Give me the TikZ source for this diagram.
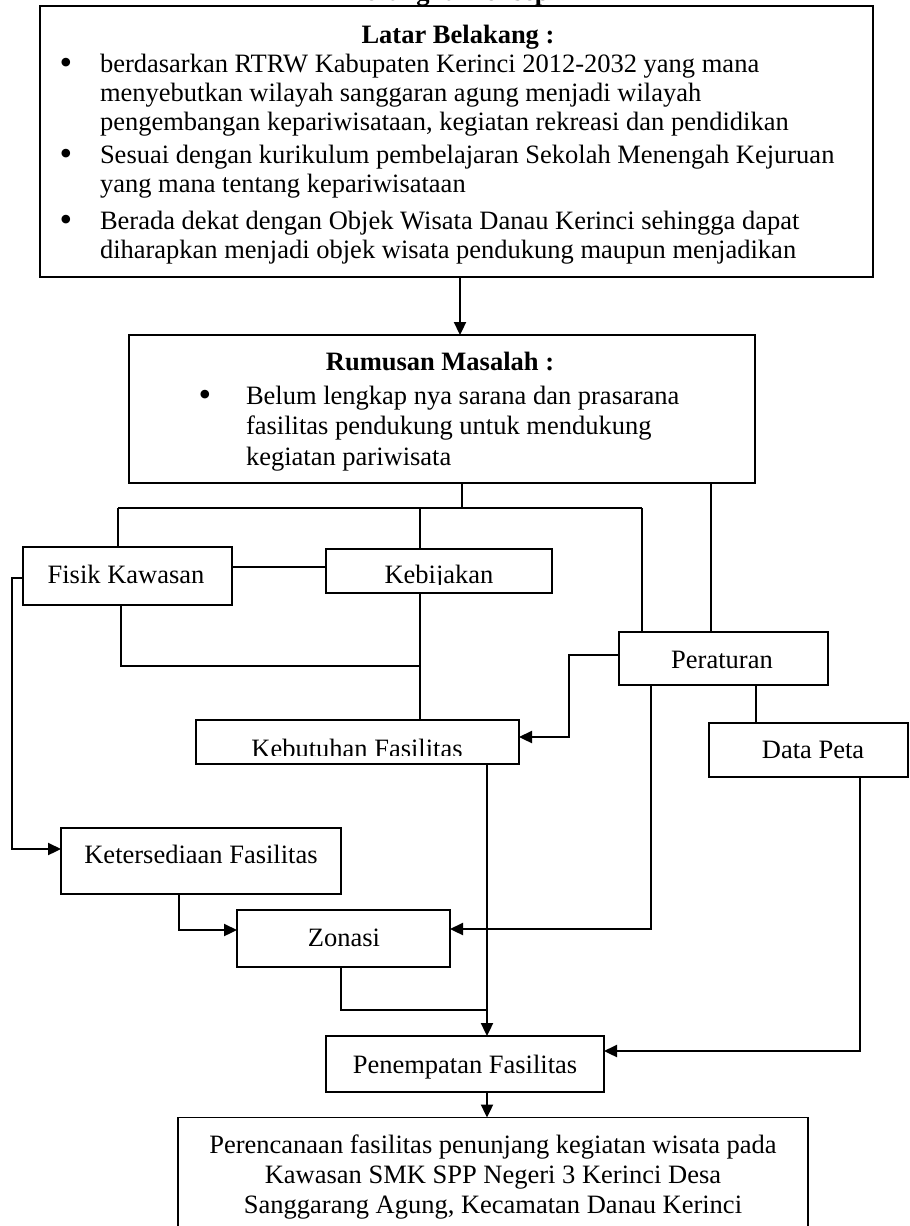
\documentclass[tikz,border=0pt]{standalone}
\usepackage{fontspec}
\setmainfont{Liberation Serif}
\usetikzlibrary{arrows.meta}
\newcommand\mkbox[5]{\node[frame, minimum width={(#4)-(#2)}, minimum height={(#5)-(#3)}] (#1) at ({((#2)+(#4))/2},{((#3)+(#5))/2}) {};}
\begin{document}
\begin{tikzpicture}[x=1pt,y=-1pt,
  every node/.style={font=\fontsize{26.5}{29}\selectfont, inner sep=0pt, outer sep=0pt},
  bold/.style={font=\fontsize{26.5}{29}\selectfont\bfseries},
  bull/.style={anchor=base, font=\fontsize{36}{36}\selectfont},
  frame/.style={draw, line width=1.4pt, rectangle},
  conn/.style={line width=1.3pt},
  arr/.style={line width=2.3pt, -{Triangle[length=13pt,width=12pt]}},
  lbl/.style={anchor=base}]
\useasboundingbox (0,0) rectangle (910,1226);
\fill[white] (0,0) rectangle (910,1226);

% boxes
\mkbox{lb}{40}{6}{873}{277}
\mkbox{rm}{129}{335}{755}{483}
\mkbox{fk}{23}{547}{232}{605}
\mkbox{kj}{326}{549}{552}{593}
\mkbox{pr}{619}{632}{828}{685}
\mkbox{kb}{196}{720}{519}{764}
\mkbox{dp}{709}{723}{908}{777}
\mkbox{kt}{61}{828}{341}{894}
\mkbox{zn}{237}{910}{450}{967}
\mkbox{pf}{326}{1036}{604}{1092}
\node[minimum width=630, minimum height=113] (pk) at (493,1174) {};
\draw[line width=1.4pt] (pk.south west) -- (pk.north west) -- (pk.north east) -- (pk.south east);

% texts
\node[bold, lbl] (t0) at (447,1) {Kerangka Konsep};
\node[bold, lbl] (lbt) at (458,43) {Latar Belakang :};
\node[bull] (bu1) at (66,74) {\textbullet};
\node[anchor=base west] (tx1) at (100,72) {\begin{tabular}[t]{@{}l@{}}berdasarkan RTRW Kabupaten Kerinci 2012-2032 yang mana\\ menyebutkan wilayah sanggaran agung menjadi wilayah\\ pengembangan kepariwisataan, kegiatan rekreasi dan pendidikan\end{tabular}};
\node[bull] (bu2) at (66,165) {\textbullet};
\node[anchor=base west] (tx2) at (100,163) {\begin{tabular}[t]{@{}l@{}}Sesuai dengan kurikulum pembelajaran Sekolah Menengah Kejuruan\\ yang mana tentang kepariwisataan\end{tabular}};
\node[bull] (bu3) at (66,231) {\textbullet};
\node[anchor=base west] (tx3) at (100,229) {\begin{tabular}[t]{@{}l@{}}Berada dekat dengan Objek Wisata Danau Kerinci sehingga dapat\\ diharapkan menjadi objek wisata pendukung maupun menjadikan\end{tabular}};

\node[bold, lbl] (rmt) at (440,370) {Rumusan Masalah :};
\node[bull] (bu4) at (205,406) {\textbullet};
\node[anchor=base west, font=\fontsize{26.5}{30.5}\selectfont] (tx4) at (246,404) {\begin{tabular}[t]{@{}l@{}}Belum lengkap nya sarana dan prasarana\\ fasilitas pendukung untuk mendukung\\ kegiatan pariwisata\end{tabular}};

\node[lbl] (fkt) at (126,583) {Fisik Kawasan};
\begin{scope}
\clip (326,549) rectangle (552,584);
\node[lbl] (kjt) at (439,583) {Kebijakan};
\end{scope}
\node[lbl] (prt) at (722,668) {Peraturan};
\begin{scope}
\clip (196,720) rectangle (519,755);
\node[lbl] (kbt) at (357,757) {Kebutuhan Fasilitas};
\end{scope}
\node[lbl] (dpt) at (813,758) {Data Peta};
\node[lbl] (ktt) at (201,863) {Ketersediaan Fasilitas};
\node[lbl] (znt) at (344,946) {Zonasi};
\node[lbl] (pft) at (465,1073) {Penempatan Fasilitas};
\node[anchor=base, font=\fontsize{26.5}{30}\selectfont] (pkt) at (493,1153) {\begin{tabular}[t]{@{}c@{}}Perencanaan fasilitas penunjang kegiatan wisata pada\\ Kawasan SMK SPP Negeri 3 Kerinci Desa\\ Sanggarang Agung, Kecamatan Danau Kerinci\end{tabular}};

% junctions
\coordinate (j1) at (462,508);
\coordinate (jL) at (118,508);
\coordinate (jK) at (420,508);
\coordinate (jR) at (642,508);
\coordinate (xR2) at (711,0);
\coordinate (yFK) at (0,567);
\coordinate (c1) at (121,666);
\coordinate (c2) at (420,666);
\coordinate (c3) at (756,0);
\coordinate (c4) at (341,1010);
\coordinate (c5) at (487,1010);
\coordinate (a0) at (460,0);
\coordinate (d1) at (12,578);
\coordinate (d2) at (12,849);
\coordinate (e1) at (569,655);
\coordinate (e2) at (569,737);
\coordinate (f1) at (179,930);
\coordinate (g1) at (651,929);
\coordinate (h1) at (860,1051);

% plain connectors
\draw[conn] (rm.south -| j1) -- (j1);
\draw[conn] (jL) -- (jR);
\draw[conn] (jL) -- (fk.north -| jL);
\draw[conn] (jK) -- (kj.north -| jK);
\draw[conn] (jR) -- (pr.north -| jR);
\draw[conn] (rm.south -| xR2) -- (pr.north -| xR2);
\draw[conn] (fk.east |- yFK) -- (kj.west |- yFK);
\draw[conn] (fk.south -| c1) -- (c1) -- (c2);
\draw[conn] (kj.south -| c2) -- (kb.north -| c2);
\draw[conn] (pr.south -| c3) -- (dp.north -| c3);
\draw[conn] (zn.south -| c4) -- (c4) -- (c5);

% arrows
\draw[arr] (lb.south -| a0) -- (rm.north -| a0);
\draw[arr] (fk.west |- d1) -- (d1) -- (d2) -- (kt.west |- d2);
\draw[arr] (pr.west |- e1) -- (e1) -- (e2) -- (kb.east |- e2);
\draw[arr] (kb.south -| c5) -- (pf.north -| c5);
\draw[arr] (kt.south -| f1) -- (f1) -- (zn.west |- f1);
\draw[arr] (pr.south -| g1) -- (g1) -- (zn.east |- g1);
\draw[arr] (dp.south -| h1) -- (h1) -- (pf.east |- h1);
\draw[arr] (pf.south -| c5) -- (pk.north -| c5);
\end{tikzpicture}
\end{document}
